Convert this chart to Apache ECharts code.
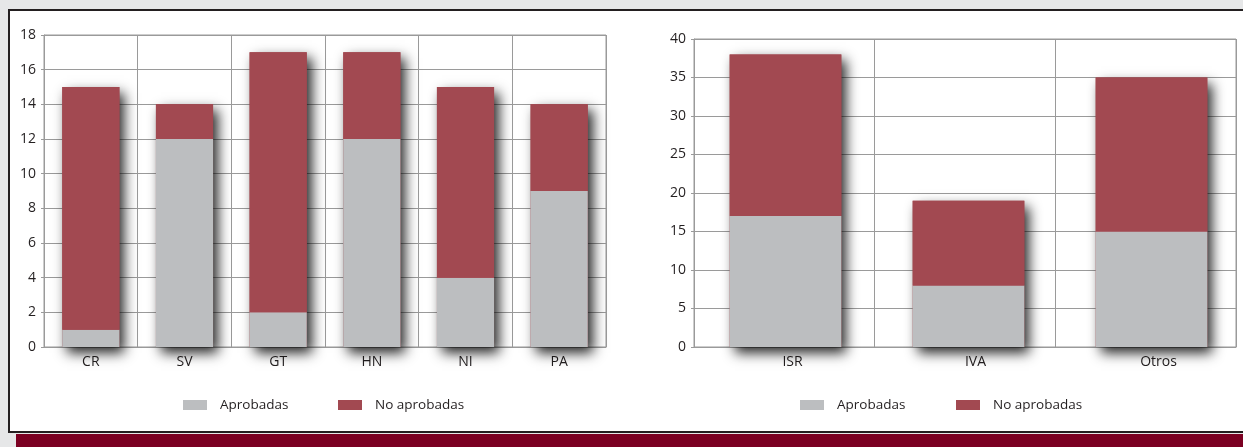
<!DOCTYPE html>
<html>
<head>
<meta charset="utf-8">
<script src="https://cdn.jsdelivr.net/npm/echarts@6/dist/echarts.min.js"></script>
<style>
html,body{margin:0;padding:0;background:#e6e7e8;}
#c{width:1243px;height:447px;}
</style>
</head>
<body>
<div id="c"></div>
<script>
// ---- data ----
const catsA = ['CR', 'SV', 'GT', 'HN', 'NI', 'PA'];
const aprobA = [1, 12, 2, 12, 4, 9];
const noAprobA = [14, 2, 15, 5, 11, 5];
const catsB = ['ISR', 'IVA', 'Otros'];
const aprobB = [17, 8, 15];
const noAprobB = [21, 11, 20];
const seriesNames = ['Aprobadas', 'No aprobadas'];

// ---- styling ----
const GRAY = '#bcbec0';
const RED = '#a24951';
const GRID = '#9a9a9a';
const TXT = '#231f20';
const FONT = 'Open Sans';

const totalsA = aprobA.map((v, i) => v + noAprobA[i]);
const totalsB = aprobB.map((v, i) => v + noAprobB[i]);

const chart = echarts.init(document.getElementById('c'), null, {renderer: 'canvas'});

function xAxis(idx, cats, opts) {
  opts = opts || {};
  return {
    type: 'category', gridIndex: idx, data: cats,
    axisLine: {show: opts.line !== false, lineStyle: {color: GRID, width: 1}},
    axisTick: {show: false},
    axisLabel: Object.assign({show: opts.labels !== false, color: TXT, fontFamily: FONT, fontSize: 14, margin: 8}, opts.label || {}),
    splitLine: {show: opts.split !== false, lineStyle: {color: GRID, width: 1}}
  };
}
function yAxis(idx, max, interval, show) {
  return {
    type: 'value', gridIndex: idx, min: 0, max: max, interval: interval, show: show !== false,
    axisLine: {show: true, lineStyle: {color: GRID, width: 1}},
    axisTick: {show: true, length: 3, lineStyle: {color: GRID}},
    axisLabel: {color: TXT, fontFamily: FONT, fontSize: 14, margin: 8},
    splitLine: {show: show !== false, lineStyle: {color: GRID, width: 1}}
  };
}
const SHADOW = {shadowBlur: 12, shadowOffsetX: 5, shadowOffsetY: 6, shadowColor: 'rgba(0,0,0,0.85)'};
function shadowSeries(idx, totals) {
  return {
    type: 'bar', xAxisIndex: idx, yAxisIndex: idx, data: totals, barWidth: '61%', barGap: '-100%',
    z: 1, silent: true, name: '_shadow' + idx,
    itemStyle: Object.assign({color: RED}, SHADOW)
  };
}
function stackSeries(idx, name, data, color) {
  return {
    type: 'bar', xAxisIndex: idx, yAxisIndex: idx, name: name, data: data, stack: 's' + idx,
    barWidth: '61%', z: 3, itemStyle: {color: color}
  };
}
function legend(name, left) {
  return {
    data: [name], left: left, top: 393, itemWidth: 24, itemHeight: 10, selectedMode: false,
    icon: 'rect',
    textStyle: {color: TXT, fontFamily: FONT, fontSize: 13.5, padding: [0, 0, 0, 8]}
  };
}

chart.setOption({
  animation: false,
  backgroundColor: 'transparent',
  graphic: {
    elements: [
      {type: 'rect', z: -10, shape: {x: 9, y: 10, width: 1300, height: 422},
       style: {fill: '#ffffff', stroke: TXT, lineWidth: 2}},
      {type: 'rect', z: -10, shape: {x: 16, y: 434, width: 1300, height: 13},
       style: {fill: '#7b0022'}}
    ]
  },
  grid: [
    // left chart
    {left: 44, top: 35, width: 562, height: 312, show: true, borderColor: GRID, borderWidth: 1, backgroundColor: 'transparent'},
    // right chart: grid lines frame
    {left: 694, top: 39, width: 542, height: 308, show: true, borderColor: GRID, borderWidth: 1, backgroundColor: 'transparent'},
    // right chart: bar placement
    {left: 694, top: 39, width: 551, height: 308, show: false}
  ],
  xAxis: [
    xAxis(0, catsA),
    xAxis(1, catsB, {labels: false}),
    xAxis(2, catsB, {line: false, split: false, label: {padding: [0, 0, 0, 14]}})
  ],
  yAxis: [yAxis(0, 18, 2), yAxis(1, 40, 5), yAxis(2, 40, 5, false)],
  legend: [
    legend(seriesNames[0], 178), legend(seriesNames[1], 333),
    legend(seriesNames[0], 795), legend(seriesNames[1], 951)
  ],
  series: [
    shadowSeries(0, totalsA),
    stackSeries(0, seriesNames[0], aprobA, GRAY),
    stackSeries(0, seriesNames[1], noAprobA, RED),
    shadowSeries(2, totalsB),
    stackSeries(2, seriesNames[0], aprobB, GRAY),
    stackSeries(2, seriesNames[1], noAprobB, RED)
  ]
});
</script>
</body>
</html>
